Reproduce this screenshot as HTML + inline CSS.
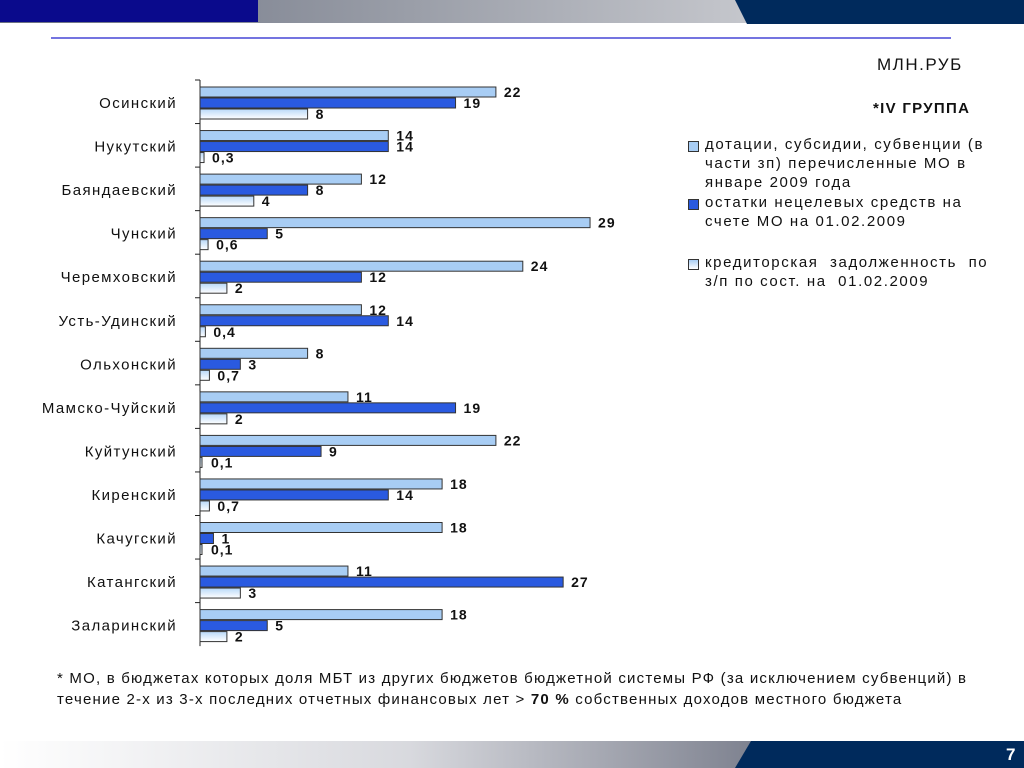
<!DOCTYPE html>
<html><head><meta charset="utf-8"><style>
body{margin:0;width:1024px;height:768px;position:relative;background:#fff;font-family:"Liberation Sans",sans-serif;overflow:hidden}
.abs{position:absolute}
.leg{position:absolute;left:705px;font-size:15px;line-height:19px;color:#111;width:300px;letter-spacing:1.6px}
.sw{position:absolute;left:688px;width:9px;height:9px;border:1px solid #333}
</style></head><body>
<div class="abs" style="left:0;top:0;width:1024px;height:23px;background:linear-gradient(90deg,#6a7080 0%,#9a9ea8 40%,#e8e8ea 100%)"></div>
<div class="abs" style="left:0;top:0;width:258px;height:22px;background:#0a0a8c"></div>
<div class="abs" style="left:735px;top:0;width:289px;height:24px;background:#002a5c;clip-path:polygon(0 0,100% 0,100% 100%,12px 100%)"></div>
<div class="abs" style="left:51px;top:37px;width:900px;height:2px;background:#7474e0"></div>
<div class="abs" style="left:877px;top:55px;font-size:17px;color:#111;letter-spacing:1.5px">МЛН.РУБ</div>
<div class="abs" style="left:873px;top:100px;font-size:15px;font-weight:bold;color:#111;letter-spacing:1.3px">*IV ГРУППА</div>
<div class="sw" style="top:141px;background:#a8cdf4"></div>
<div class="leg" style="top:135px">дотации, субсидии, субвенции (в части зп) перечисленные МО в январе 2009 года</div>
<div class="sw" style="top:199px;background:#2a5ae0"></div>
<div class="leg" style="top:193px">остатки нецелевых средств на счете МО на 01.02.2009</div>
<div class="sw" style="top:259px;background:linear-gradient(#a8cdf4,#fff)"></div>
<div class="leg" style="top:253px">кредиторская&nbsp; задолженность&nbsp; по з/п по сост. на&nbsp; 01.02.2009</div>
<svg class="abs" style="left:0;top:0" width="1024" height="768" id="chart">
<defs><linearGradient id="wg" x1="0" y1="0" x2="0" y2="1"><stop offset="0" stop-color="#b8d8f8"/><stop offset="1" stop-color="#fff"/></linearGradient></defs>
</svg>
<div class="abs" style="left:57px;top:668px;font-size:15px;line-height:21px;color:#111;width:960px;letter-spacing:1.2px">* МО, в бюджетах которых доля МБТ из других бюджетов бюджетной системы РФ (за исключением субвенций) в<br>течение 2-х из 3-х последних отчетных финансовых лет &gt; <b>70 %</b> собственных доходов местного бюджета</div>
<div class="abs" style="left:0;top:741px;width:1024px;height:27px;background:linear-gradient(90deg,#fff 0%,#d8d9de 40%,#7a7e8c 75%)"></div>
<div class="abs" style="left:735px;top:741px;width:289px;height:27px;background:#002a5c;clip-path:polygon(16px 0,100% 0,100% 100%,0 100%)"></div>
<div class="abs" style="left:1006px;top:745px;font-size:17px;font-weight:bold;color:#fff">7</div>
<script>
const categories=["Осинский","Нукутский","Баяндаевский","Чунский","Черемховский","Усть-Удинский","Ольхонский","Мамско-Чуйский","Куйтунский","Киренский","Качугский","Катангский","Заларинский"];
const subsidies=[22,14,12,29,24,12,8,11,22,18,18,11,18];
const balances=[19,14,8,5,12,14,3,19,9,14,1,27,5];
const debt=[8,0.3,4,0.6,2,0.4,0.7,2,0.1,0.7,0.1,3,2];
const NS="http://www.w3.org/2000/svg";
const svg=document.getElementById('chart');
const x0=200,scale=13.45,top0=80,step=43.55;
const xs=v=>x0+v*scale;
const fmt=v=>String(v).replace('.',',');
function mk(t,a){const e=document.createElementNS(NS,t);for(const k in a)e.setAttribute(k,a[k]);svg.appendChild(e);return e;}
const axis=mk('line',{x1:x0,y1:top0,x2:x0,y2:top0+step*categories.length,stroke:'#222','stroke-width':1});


const series=[[subsidies,'#a8cdf4','subsidies'],[balances,'#2a5ae0','balances'],[debt,'url(#wg)','debt']];
categories.forEach((c,i)=>{
  const y=top0+i*step;
  const tk=mk('line',{x1:x0-5,y1:y,x2:x0,y2:y,stroke:'#222'});
  
  
  const lb=mk('text',{x:177,y:y+28,'text-anchor':'end','font-size':15,'letter-spacing':1.4,fill:'#111','font-family':'Liberation Sans, sans-serif'});
  lb.textContent=c;
  
  
  series.forEach(([arr,col,nm],j)=>{
    const by=y+7+j*11;
    const r=mk('rect',{x:x0,y:by,width:Math.max(xs(arr[i])-x0,2),height:10,fill:col,stroke:'#333','stroke-width':1});
    
    
    const t=mk('text',{x:Math.max(xs(arr[i]),x0+3)+8,y:by+10,'font-size':14,'letter-spacing':1,'font-weight':'bold',fill:'#111','font-family':'Liberation Sans, sans-serif'});
    t.textContent=fmt(arr[i]);
    
    
  });
});
</script>
</body></html>
